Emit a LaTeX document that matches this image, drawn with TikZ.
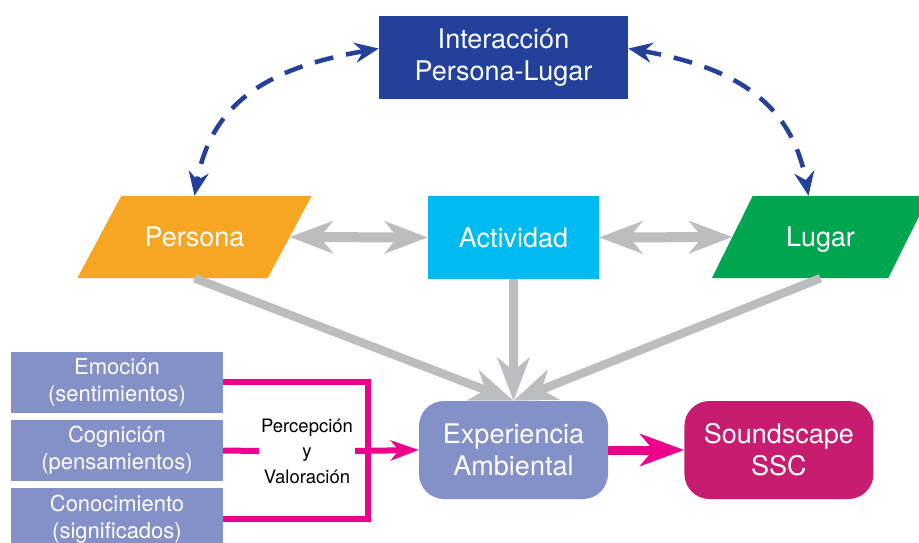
\documentclass[tikz,border=0pt]{standalone}
\usepackage{fontspec}
\setmainfont{TeX Gyre Heros}
\usetikzlibrary{arrows.meta,positioning,backgrounds}
\definecolor{azul}{HTML}{23409A}
\definecolor{naranja}{HTML}{F6A623}
\definecolor{cian}{HTML}{00BAF2}
\definecolor{verde}{HTML}{00A54F}
\definecolor{lila}{HTML}{8490C8}
\definecolor{fucsia}{HTML}{C71C6F}
\definecolor{rosa}{HTML}{EC008C}
\definecolor{gris}{HTML}{BCBDC0}
\begin{document}
\begin{tikzpicture}[x=1pt,y=1pt,
	caja/.style={fill=#1, text=white, inner sep=0pt, align=center, font=\fontsize{27}{32}\selectfont},
	para/.style={minimum height=82, text=white, inner sep=0pt, text height=25pt, text depth=5.7pt,
		font=\fontsize{27}{32}\selectfont},
	redondo/.style={caja=#1, rounded corners=25, minimum width=189, minimum height=98},
	izq/.style={fill=lila, text=white, inner sep=0pt, align=center, minimum width=212, minimum height=61,
		font=\fontsize{22}{27}\selectfont},
	flecha/.style={draw=gris, line width=10, -{Stealth[length=43pt, width=32pt, inset=13pt]}},
	doble/.style={flecha, {Stealth[length=43pt, width=32pt, inset=13pt]}-{Stealth[length=43pt, width=32pt, inset=13pt]}},
	discont/.style={draw=azul, line width=4.5, dash pattern=on 19pt off 13pt,
		{Stealth[length=24pt, width=20pt, inset=8pt]}-{Stealth[length=24pt, width=20pt, inset=8pt]}},
	rosalinea/.style={draw=rosa, line width=6}]
	\useasboundingbox (0,0) rectangle (919,542);
	\node[caja=azul, minimum width=249, minimum height=83] (inter) at (503.5,484.5) {Interacción\\Persona-Lugar};
	\node[para, minimum width=190] (persona) at (194.5,305) {Persona};
	\node[caja=cian, minimum width=171, minimum height=83] (activ) at (513.5,304.5) {Actividad};
	\node[para, minimum width=176] (lugar) at (820.5,305) {Lugar};
	\node[redondo=lila] (exp) at (513.5,92) {Experiencia\\Ambiental};
	\node[redondo=fucsia, right=76pt of exp] (snd) {Soundscape\\SSC};
	\node[izq] (cogn) at (117,91.5) {Cognición\\(pensamientos)};
	\node[izq, above=7pt of cogn] (emo) {Emoción\\(sentimientos)};
	\node[izq, below=7pt of cogn] (cono) {Conocimiento\\(significados)};
	\node[inner sep=2pt, align=center, font=\fontsize{18.5}{25.5}\selectfont] (perc) at (307,91) {Percepción\\y\\Valoración};
	\coordinate (brk) at (368,0);
	\begin{scope}[on background layer]
		\foreach \n/\c/\s in {persona/naranja/22, lugar/verde/20.5}
			\fill[\c] ([xshift=-\s pt]\n.south west) -- ([xshift=-\s pt]\n.south east)
				-- ([xshift=\s pt]\n.north east) -- ([xshift=\s pt]\n.north west) -- cycle;
		\draw[doble] (persona.east) -- (activ.west);
		\draw[doble] (activ.east) -- (lugar.west);
		\draw[flecha, line width=8.5] (persona.south) -- (exp.north);
		\draw[flecha, line width=8.5] (activ.south) -- (exp.north);
		\draw[flecha, line width=8.5] (lugar.south) -- (exp.north);
	\end{scope}
	\draw[discont] ([yshift=9pt]inter.west) to[out=190, in=80, looseness=1.1] (persona.north);
	\draw[discont] ([yshift=9pt]inter.east) to[out=-10, in=100, looseness=1.1] ([xshift=-12pt]lugar.north);
	\draw[rosalinea] (emo.east) -| (brk |- cono.east) -- (cono.east);
	\draw[rosalinea] (cogn.east) -- (perc.west);
	\draw[rosalinea, -{Stealth[length=28pt, width=20pt, inset=8pt]}] (perc.east) -- (exp.west);
	\draw[draw=rosa, line width=9, -{Stealth[length=44pt, width=32pt, inset=13pt]}] (exp.east) -- (snd.west);
\end{tikzpicture}
\end{document}
